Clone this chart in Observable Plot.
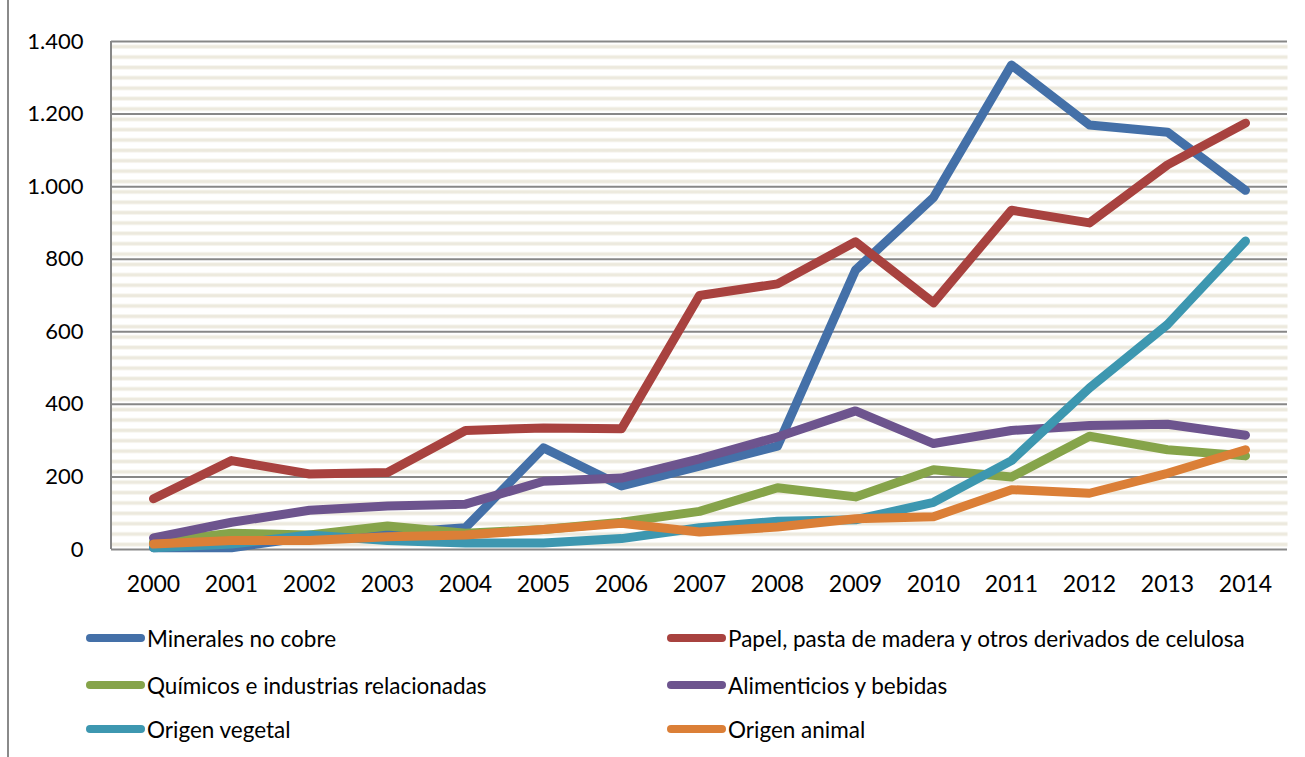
<!DOCTYPE html>
<html>
<head>
<meta charset="utf-8">
<script src="https://cdn.jsdelivr.net/npm/d3@7"></script>
<script src="https://cdn.jsdelivr.net/npm/@observablehq/plot@0.6"></script>
<style>
  html, body { margin: 0; padding: 0; background: #fff; }
  #wrap { position: relative; width: 1305px; height: 757px; overflow: hidden; font-family: Lato, "Open Sans", sans-serif; }
  #border { position: absolute; left: 7px; top: 0; width: 2px; height: 757px; background: #8a8a8a; }
  #legend { position: absolute; left: 0; top: 600px; width: 1305px; height: 157px; }
  .item { position: absolute; display: flex; align-items: center; font-size: 22.5px; color: #000; white-space: nowrap; }
  .sw { width: 59px; height: 8px; border-radius: 4px; margin-right: 2px; }
</style>
</head>
<body>
<div id="wrap">
  <div id="chart"></div>
  <div id="border"></div>
  <div id="legend"></div>
</div>
<script>
const years = ["2000","2001","2002","2003","2004","2005","2006","2007","2008","2009","2010","2011","2012","2013","2014"];
const seriesNames = [
  "Minerales no cobre",
  "Papel, pasta de madera y otros derivados de celulosa",
  "Químicos e industrias relacionadas",
  "Alimenticios y bebidas",
  "Origen vegetal",
  "Origen animal"
];
const seriesColors = ["#4470A8", "#A8423F", "#86A44A", "#6D548E", "#3D97B0", "#DB7F37"];
const minerales    = [5, 5, 35, 45, 60, 280, 175, 230, 285, 770, 970, 1335, 1170, 1150, 990];
const papel        = [140, 245, 208, 212, 328, 335, 333, 700, 732, 848, 680, 935, 900, 1060, 1175];
const quimicos     = [20, 45, 40, 65, 45, 55, 75, 105, 170, 145, 220, 200, 312, 275, 258];
const alimenticios = [32, 75, 108, 120, 125, 188, 197, 250, 310, 382, 292, 328, 342, 345, 315];
const vegetal      = [5, 15, 40, 25, 18, 18, 30, 60, 78, 82, 130, 245, 445, 620, 850];
const animal       = [15, 25, 25, 35, 40, 55, 72, 48, 62, 85, 90, 165, 155, 210, 275];
const yTicks = [0, 200, 400, 600, 800, 1000, 1200, 1400];

const allSeries = [minerales, papel, quimicos, alimenticios, vegetal, animal];
const rows = [];
allSeries.forEach((vals, si) => vals.forEach((v, i) => rows.push({series: seriesNames[si], year: years[i], value: v})));

const fmt = d3.formatLocale({decimal: ",", thousands: ".", grouping: [3], currency: ["", ""]}).format(",d");

const plot = Plot.plot({
  width: 1305,
  height: 600,
  marginLeft: 111,
  marginRight: 18,
  marginTop: 41,
  marginBottom: 51,
  style: {fontFamily: "Lato, 'Open Sans', sans-serif", fontSize: "22px", color: "#000", background: "transparent"},
  x: {type: "band", domain: years, padding: 0, label: null},
  y: {domain: [0, 1400], label: null},
  color: {domain: seriesNames, range: seriesColors},
  marks: [
    Plot.frame({fill: "url(#stripes)", stroke: "none"}),
    Plot.ruleY(yTicks, {stroke: "#878787", strokeWidth: 2}),
    Plot.axisY({ticks: yTicks, tickSize: 0, tickPadding: 28, tickFormat: fmt, fontSize: 22, fill: "#000"}),
    Plot.axisX({tickSize: 0, tickPadding: 26, fontSize: 23, fill: "#000"}),
    Plot.line(rows, {x: "year", y: "value", z: "series", stroke: "series", strokeWidth: 9, strokeLinecap: "round", strokeLinejoin: "round"})
  ]
});

// stripe pattern + left axis line
const ns = "http://www.w3.org/2000/svg";
const defs = document.createElementNS(ns, "defs");
defs.innerHTML = `
  <linearGradient id="stripeGrad" x1="0" y1="0" x2="0" y2="1">
    <stop offset="0" stop-color="#ffffff"/>
    <stop offset="0.35" stop-color="#ECE9DD"/>
    <stop offset="0.65" stop-color="#ECE9DD"/>
    <stop offset="1" stop-color="#ffffff"/>
  </linearGradient>
  <pattern id="stripes" patternUnits="userSpaceOnUse" x="0" y="41" width="20" height="10.37">
    <rect x="0" y="0" width="20" height="10.37" fill="#ffffff"/>
    <rect x="0" y="2.5" width="20" height="5.4" fill="url(#stripeGrad)"/>
  </pattern>`;
plot.insertBefore(defs, plot.firstChild);
const axisLine = document.createElementNS(ns, "line");
axisLine.setAttribute("x1", 111); axisLine.setAttribute("x2", 111);
axisLine.setAttribute("y1", 41); axisLine.setAttribute("y2", 549);
axisLine.setAttribute("stroke", "#878787"); axisLine.setAttribute("stroke-width", 2);
const lineG = plot.querySelector("g[aria-label='line']");
plot.insertBefore(axisLine, lineG);
document.getElementById("chart").appendChild(plot);

// legend
const legend = document.getElementById("legend");
const pos = [[86, 38], [667, 38], [86, 85], [667, 85], [86, 129], [667, 129]];
seriesNames.forEach((name, i) => {
  const it = document.createElement("div");
  it.className = "item";
  it.style.left = pos[i][0] + "px";
  it.style.top = (pos[i][1] - 14) + "px";
  it.style.height = "28px";
  const sw = document.createElement("div");
  sw.className = "sw";
  sw.style.background = seriesColors[i];
  const tx = document.createElement("span");
  tx.textContent = name;
  it.appendChild(sw); it.appendChild(tx);
  legend.appendChild(it);
});
</script>
</body>
</html>
